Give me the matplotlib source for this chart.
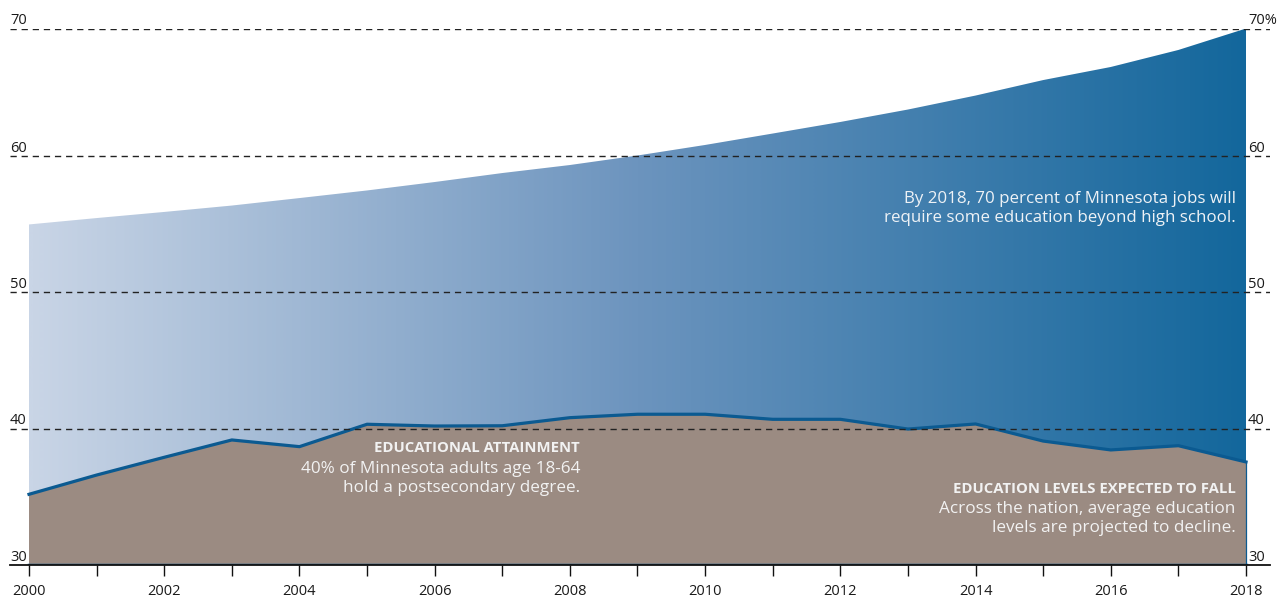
import numpy as np
import matplotlib
matplotlib.use("Agg")
import matplotlib.pyplot as plt
from matplotlib.colors import LinearSegmentedColormap

# ---- data ----
years = list(range(2000, 2019))
jobs_requiring_postsec = [54.93, 55.40, 55.85, 56.32, 56.87, 57.43, 58.05, 58.71, 59.30, 60.00,
                          60.83, 61.73, 62.64, 63.62, 64.72, 65.94, 66.97, 68.31, 70.00]
adults_with_degree = [35.18, 36.59, 37.89, 39.16, 38.67, 40.31, 40.18, 40.20, 40.79, 41.04,
                      41.04, 40.67, 40.67, 39.96, 40.33, 39.08, 38.43, 38.74, 37.55]
y_levels = [30, 40, 50, 60, 70]
left_labels = ["30", "40", "50", "60", "70"]
right_labels = ["30", "40", "50", "60", "70%"]
x_label_years = [2000, 2002, 2004, 2006, 2008, 2010, 2012, 2014, 2016, 2018]

# visual spacing of the gridlines (the top band is slightly compressed in the original)
_vals = np.array([30, 40, 50, 60, 70], dtype=float)
_pos = np.array([0, 136.5, 273.5, 409.5, 536.5])

def fwd(v):
    return np.interp(v, _vals, _pos, left=-1e3, right=1e3)

def inv(p):
    return np.interp(p, _pos, _vals)

FONT = ["Open Sans", "DejaVu Sans"]
plt.rcParams['font.family'] = FONT

W, H = 1281, 599
fig = plt.figure(figsize=(W / 100, H / 100), dpi=100)
ax = fig.add_axes([10 / W, (H - 565) / H, 1260 / W, (565 - 28.5) / H])
ax.set_yscale('function', functions=(fwd, inv))

ppy = (1246 - 29) / 18.0
ax.set_xlim(2000 - 19 / ppy, 2018 + 24 / ppy)
ax.set_ylim(30, 70)

# gradient area (jobs)
poly = ax.fill_between(years, 30, jobs_requiring_postsec, facecolor='none', edgecolor='none')
cmap = LinearSegmentedColormap.from_list("g", ["#c9d5e6", "#6c94be", "#13679c"])
grad = np.linspace(0, 1, 512).reshape(1, -1)
im = ax.imshow(grad, extent=[2000, 2018, 30, 70], aspect='auto', cmap=cmap,
               origin='lower', zorder=1, interpolation='bilinear')
im.set_clip_path(poly.get_paths()[0], transform=ax.transData)

# brown area (attainment)
line_col = '#0b5a91'
ax.fill_between(years, 30, adults_with_degree, facecolor='#9b8b82',
                edgecolor='none', linewidth=0, zorder=2)
ax.plot(years, adults_with_degree, color=line_col, linewidth=2.3, zorder=3,
        solid_joinstyle='round')
ax.plot([years[0], years[-1]], [30, 30], color=line_col, linewidth=2.5, zorder=3)
ax.plot([years[-1], years[-1]], [30, adults_with_degree[-1]], color=line_col,
        linewidth=0.9, zorder=3)

# gridlines
for v in y_levels[1:]:
    ax.axhline(v, color='#222222', linestyle=(0, (4.5, 3.5)), linewidth=1.0, zorder=4)

# y labels
ytr = ax.get_yaxis_transform()
for v, ll, rl in zip(y_levels, left_labels, right_labels):
    ax.text(0.0, v, ll, transform=ytr, ha='left', va='bottom', fontsize=10.5,
            color='#1a1a1a', zorder=6, clip_on=False)
    ax.text((1248 - 10) / 1260, v, rl, transform=ytr, ha='left', va='bottom', fontsize=10.5,
            color='#1a1a1a', zorder=6, clip_on=False)

# x axis
ax.set_yticks([])
ax.set_yticks([], minor=True)
ax.set_xticks(years)
ax.set_xticklabels([str(y) if y in x_label_years else "" for y in years])
ax.tick_params(axis='x', direction='out', length=8, width=1, color='#111111',
               labelsize=10.5, labelcolor='#1a1a1a', pad=6)
for s in ['left', 'right', 'top']:
    ax.spines[s].set_visible(False)
ax.spines['bottom'].set_color('#111111')
ax.spines['bottom'].set_linewidth(1.3)
ax.spines['bottom'].set_zorder(5)

# annotations
txt_col = '#f2f2f2'
ax.text(2017.85, 56.1, "By 2018, 70 percent of Minnesota jobs will\nrequire some education beyond high school.",
        ha='right', va='center', fontsize=12.2, color='#eef2f6', linespacing=1.3, zorder=6)

ax.text(2008.15, 38.6, "EDUCATIONAL ATTAINMENT", ha='right', va='center', fontsize=10.7,
        fontweight='bold', color=txt_col, zorder=6)
ax.text(2008.15, 36.34, "40% of Minnesota adults age 18-64\nhold a postsecondary degree.",
        ha='right', va='center', fontsize=12.3, color=txt_col, linespacing=1.27, zorder=6)

ax.text(2017.85, 35.54, "EDUCATION LEVELS EXPECTED TO FALL", ha='right', va='center', fontsize=10.7,
        fontweight='bold', color=txt_col, zorder=6)
ax.text(2017.85, 33.41, "Across the nation, average education\nlevels are projected to decline.",
        ha='right', va='center', fontsize=12.3, color=txt_col, linespacing=1.27, zorder=6)

fig.savefig("out.png", dpi=100)
